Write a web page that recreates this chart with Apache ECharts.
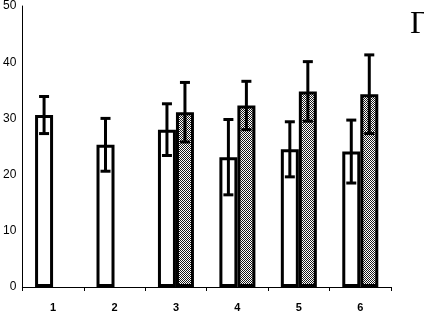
<!DOCTYPE html>
<html>
<head>
<meta charset="utf-8">
<script src="https://cdn.jsdelivr.net/npm/echarts@6/dist/echarts.min.js"></script>
<style>
  html, body { margin: 0; padding: 0; background: #fff; }
  #chart { width: 424px; height: 316px; }
</style>
</head>
<body>
<div id="chart"></div>
<script>
// values
const categories = ["1", "2", "3", "4", "5", "6"];
const whiteMean = [30.6, 25.3, 28.0, 23.1, 24.5, 24.1];
const whiteErr = [3.3, 4.7, 4.6, 6.7, 4.9, 5.6];
const hatchMean = [null, null, 31.1, 32.3, 34.8, 34.3];
const hatchErr = [null, null, 5.3, 4.3, 5.3, 7.0];
const yTicks = { min: 0, max: 50, interval: 10 };

const BAR_W = 18;

// dithered fill (checker)
const pat = document.createElement("canvas");
pat.width = 2;
pat.height = 2;
const pc = pat.getContext("2d");
pc.fillStyle = "#fff";
pc.fillRect(0, 0, 2, 2);
pc.fillStyle = "#1a1a1a";
pc.fillRect(0, 0, 1, 1);
pc.fillRect(1, 1, 1, 1);

function errSeries(means, errs, offset) {
  const data = [];
  means.forEach((m, i) => {
    if (m != null) data.push([i, m, errs[i]]);
  });
  return {
    type: "custom",
    silent: true,
    z: 10,
    data: data,
    renderItem: function (params, api) {
      const i = api.value(0);
      const m = api.value(1);
      const e = api.value(2);
      const top = api.coord([i, m + e]);
      const bot = api.coord([i, m - e]);
      const x = top[0] + offset;
      const cap = 5;
      const style = { stroke: "#000", lineWidth: 3 };
      return {
        type: "group",
        children: [
          { type: "line", shape: { x1: x, y1: top[1], x2: x, y2: bot[1] }, style: style },
          { type: "line", shape: { x1: x - cap, y1: top[1], x2: x + cap, y2: top[1] }, style: style },
          { type: "line", shape: { x1: x - cap, y1: bot[1], x2: x + cap, y2: bot[1] }, style: style },
        ],
      };
    },
  };
}

const chart = echarts.init(document.getElementById("chart"));
chart.setOption({
  animation: false,
  backgroundColor: "#fff",
  title: {
    text: "Г",
    left: 405,
    top: 4,
    textStyle: {
      fontFamily: "Liberation Serif",
      fontWeight: "normal",
      fontSize: 32,
      color: "#000",
    },
  },
  grid: { left: 18, right: 33, top: 6, bottom: 29 },
  xAxis: {
    type: "category",
    data: categories,
    axisLine: { lineStyle: { color: "#000", width: 1 } },
    axisTick: { show: true, length: 4, inside: false, lineStyle: { color: "#000" } },
    axisLabel: {
      margin: 15,
      color: "#000",
      fontFamily: "Liberation Sans",
      fontWeight: "bold",
      fontSize: 11,
    },
  },
  yAxis: {
    type: "value",
    min: yTicks.min,
    max: yTicks.max,
    interval: yTicks.interval,
    axisLine: { show: true, lineStyle: { color: "#000", width: 1 } },
    axisTick: { show: false },
    splitLine: { show: false },
    axisLabel: {
      margin: 6,
      color: "#000",
      fontFamily: "Liberation Sans",
      fontSize: 12,
    },
  },
  series: [
    {
      type: "bar",
      data: whiteMean,
      barWidth: BAR_W,
      barGap: "0%",
      itemStyle: { color: "#fff", borderColor: "#000", borderWidth: 3 },
    },
    {
      type: "bar",
      data: hatchMean,
      barWidth: BAR_W,
      barGap: "0%",
      itemStyle: {
        color: { image: pat, repeat: "repeat" },
        borderColor: "#000",
        borderWidth: 3,
      },
    },
    errSeries(whiteMean, whiteErr, -BAR_W / 2),
    errSeries(hatchMean, hatchErr, BAR_W / 2),
  ],
});
</script>
</body>
</html>
